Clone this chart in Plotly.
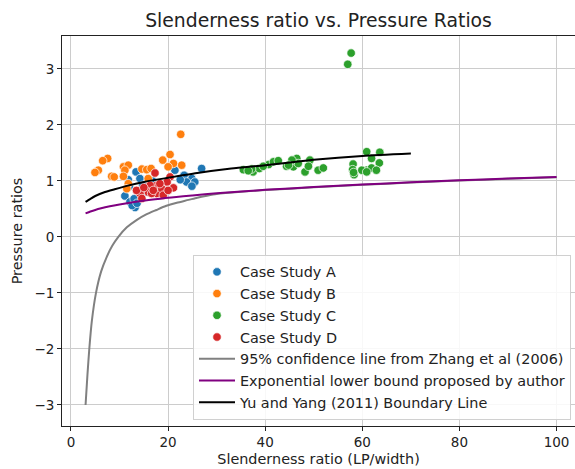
import plotly.graph_objects as go

# ---- data ----
a_x = [13.4, 11.1, 12.15, 13.2, 12.6, 14.2, 14.8, 14.1, 15.7, 21.4, 23.3, 24.9, 26.9, 23.8, 25.5, 24.9, 19.8, 13.0, 12.0, 16.8, 15.2, 22.5, 18.5, 13.6, 11.8]
a_y = [1.16, 0.73, 0.625, 0.525, 0.56, 1.04, 0.92, 0.80, 0.80, 1.19, 1.10, 1.04, 1.22, 0.98, 0.98, 0.905, 0.83, 0.68, 0.90, 1.00, 0.86, 1.02, 0.95, 0.60, 1.02]

b_x = [22.6, 20.4, 18.9, 22.8, 21.1, 7.55, 6.53, 5.63, 4.94, 8.38, 8.9, 10.8, 11.8, 11.1, 10.8, 14.6, 15.6, 15.9, 11.8, 11.5, 20.0, 16.5]
b_y = [1.83, 1.47, 1.37, 1.28, 1.31, 1.40, 1.36, 1.19, 1.15, 1.08, 1.07, 1.25, 1.28, 1.19, 1.08, 1.21, 1.20, 1.04, 0.95, 0.86, 1.25, 1.22]

c_x = [57.7, 57.0, 35.5, 37.5, 38.8, 40.7, 41.7, 42.7, 44.4, 45.8, 46.5, 46.8, 48.2, 49.2, 48.9, 50.9, 51.97, 58.1, 58.0, 58.3, 60.9, 60.9, 61.9, 61.9, 63.6, 63.5, 62.9, 59.9, 45.5, 39.6, 37.2, 60.9, 58.2, 44.8, 36.5]
c_y = [3.28, 3.08, 1.20, 1.16, 1.22, 1.29, 1.34, 1.36, 1.26, 1.25, 1.40, 1.31, 1.16, 1.37, 1.26, 1.19, 1.23, 1.30, 1.20, 1.11, 1.52, 1.19, 1.40, 1.23, 1.51, 1.32, 1.19, 1.19, 1.37, 1.26, 1.21, 1.16, 1.15, 1.28, 1.18]

d_x = [17.3, 20.4, 21.1, 19.8, 17.65, 16.3, 15.9, 17.65, 18.7, 19.0, 14.2, 13.5, 14.6, 16.6, 20.0, 18.3, 16.95, 15.0]
d_y = [1.14, 1.07, 0.875, 0.98, 0.92, 0.92, 0.80, 0.775, 0.86, 0.745, 0.775, 0.83, 0.685, 0.775, 0.83, 0.95, 0.83, 0.88]

zhang_x = [3, 3.4, 3.77, 4.3, 5.15, 6.2, 7.35, 8.5, 9.75, 11.5, 13.5, 15.5, 17.6, 19.5, 21.8, 24.2, 26, 28, 30, 35, 40, 50, 60, 70, 80, 90, 100]
zhang_y = [-3.0, -2.45, -2.0, -1.5, -1.0, -0.62, -0.36, -0.16, 0.0, 0.17, 0.3, 0.4, 0.48, 0.55, 0.61, 0.66, 0.70, 0.735, 0.765, 0.805, 0.835, 0.885, 0.93, 0.97, 1.005, 1.038, 1.066]

author_x = [3, 4, 5, 6, 8, 10, 13, 16, 20, 25, 30, 40, 50, 60, 70, 80, 90, 100]
author_y = [0.42, 0.454, 0.481, 0.505, 0.546, 0.579, 0.621, 0.657, 0.70, 0.74, 0.777, 0.839, 0.89, 0.935, 0.974, 1.009, 1.042, 1.07]

yu_x = [3, 4, 5, 7, 9, 11.5, 15, 20, 26, 33, 40, 50, 60, 70]
yu_y = [0.625, 0.68, 0.73, 0.80, 0.85, 0.91, 0.98, 1.055, 1.14, 1.22, 1.28, 1.375, 1.445, 1.49]

series = [
    ("Case Study A", a_x, a_y, "#1f77b4"),
    ("Case Study B", b_x, b_y, "#ff7f0e"),
    ("Case Study C", c_x, c_y, "#2ca02c"),
    ("Case Study D", d_x, d_y, "#d62728"),
]
lines = [
    ("95% confidence line from Zhang et al (2006)", zhang_x, zhang_y, "#808080"),
    ("Exponential lower bound proposed by author", author_x, author_y, "#800080"),
    ("Yu and Yang (2011) Boundary Line", yu_x, yu_y, "#000000"),
]

FONT = "DejaVu Sans"
fig = go.Figure()
for name, xs, ys, col in series:
    fig.add_trace(go.Scatter(
        x=xs, y=ys, mode="markers", name=name, legendgroup=name,
        marker=dict(color=col, size=8.5, line=dict(color="white", width=0.7)),
    ))
for name, xs, ys, col in lines:
    fig.add_trace(go.Scatter(
        x=xs, y=ys, mode="lines", name=name, legendgroup=name,
        line=dict(color=col, width=2, shape="spline", smoothing=0.6),
    ))

axis_common = dict(
    showgrid=True, gridcolor="#cccccc", gridwidth=1,
    zeroline=False, showline=True, linecolor="#222222", linewidth=1,
    ticks="outside", ticklen=4, tickcolor="#222222", tickwidth=1,
    tickfont=dict(family=FONT, size=13.5, color="#222222"),
)
fig.update_layout(
    width=575, height=469,
    margin=dict(l=62, r=0, t=36, b=43),
    paper_bgcolor="white", plot_bgcolor="white",
    font=dict(family=FONT, color="#222222"),
    title=dict(text="Slenderness ratio vs. Pressure Ratios", x=0.5, xref="paper",
               y=1 - 20 / 469, yref="container", yanchor="middle",
               font=dict(family=FONT, size=18.8, color="#222222")),
    xaxis=dict(range=[-1.85, 103.8], tickvals=[0, 20, 40, 60, 80, 100], mirror=True,
               title=dict(text="Slenderness ratio (LP/width)", standoff=4,
                          font=dict(family=FONT, size=14.4, color="#222222")),
               **axis_common),
    yaxis=dict(range=[-3.375, 3.585], tickvals=[-3, -2, -1, 0, 1, 2, 3], mirror=False,
               title=dict(text="Pressure ratios", standoff=8,
                          font=dict(family=FONT, size=14.4, color="#222222")),
               **axis_common),
    legend=dict(x=(193 - 62) / 513, y=(426 - 255) / 390, xanchor="left", yanchor="top",
                bgcolor="rgba(255,255,255,0.85)", bordercolor="#d0d0d0", borderwidth=1,
                font=dict(family=FONT, size=14.4, color="#222222"),
                traceorder="grouped", tracegroupgap=0, itemwidth=36),
    showlegend=True,
)
fig.write_html("out.html")
